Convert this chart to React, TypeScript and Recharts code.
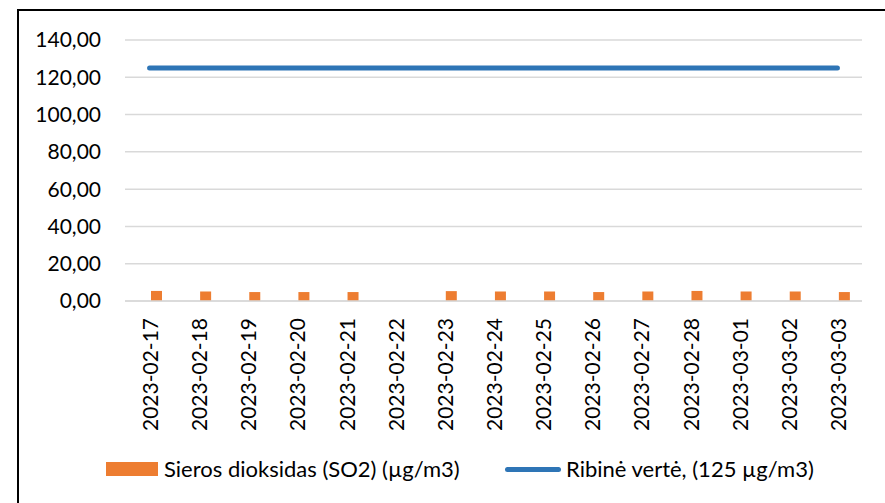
import React from "react";
import {
  ComposedChart,
  Bar,
  Line,
  XAxis,
  YAxis,
  CartesianGrid,
  Legend,
} from "recharts";

const dates = [
  "2023-02-17",
  "2023-02-18",
  "2023-02-19",
  "2023-02-20",
  "2023-02-21",
  "2023-02-22",
  "2023-02-23",
  "2023-02-24",
  "2023-02-25",
  "2023-02-26",
  "2023-02-27",
  "2023-02-28",
  "2023-03-01",
  "2023-03-02",
  "2023-03-03",
];
const so2Values: (number | null)[] = [
  5.4, 5.1, 4.8, 4.8, 4.8, null, 5.3, 5.1, 5.1, 4.8, 5.1, 5.4, 5.1, 5.1, 4.8,
];
const limitValues = [
  125, 125, 125, 125, 125, 125, 125, 125, 125, 125, 125, 125, 125, 125, 125,
];
const yTicks = [0, 20, 40, 60, 80, 100, 120, 140];

const SO2_NAME = "Sieros dioksidas (SO2) (µg/m3)";
const LIMIT_NAME = "Ribinė vertė, (125 µg/m3)";

const FONT = "Lato, 'Open Sans', sans-serif";
const ORANGE = "#ED7D31";
const BLUE = "#2E75B6";
const GRID = "#D9D9D9";

const data = dates.map((date, i) => ({
  date,
  spacer: null,
  so2: so2Values[i],
  limit: limitValues[i],
}));

const fmt = (v: number) => v.toFixed(2).replace(".", ",");

function DateTick(props: any) {
  const { x, y, payload } = props;
  const ty = y + 17;
  return (
    <text
      x={x}
      y={ty}
      transform={`rotate(-90, ${x}, ${ty})`}
      textAnchor="end"
      dominantBaseline="central"
      fontFamily={FONT}
      fontSize={21}
      fill="#000"
    >
      {payload.value}
    </text>
  );
}

function ChartLegend() {
  return (
    <div
      style={{
        position: "relative",
        height: 28,
        fontFamily: FONT,
        fontSize: 22,
        color: "#000",
        whiteSpace: "nowrap",
      }}
    >
      <span style={{ position: "absolute", left: 0, top: 7, width: 52, height: 14, background: ORANGE }} />
      <span style={{ position: "absolute", left: 58, top: 0, lineHeight: "28px" }}>{SO2_NAME}</span>
      <span
        style={{
          position: "absolute",
          left: 399,
          top: 12,
          width: 56,
          height: 5,
          borderRadius: 3,
          background: BLUE,
        }}
      />
      <span style={{ position: "absolute", left: 460, top: 0, lineHeight: "28px" }}>{LIMIT_NAME}</span>
    </div>
  );
}

export default function App() {
  return (
    <div
      style={{
        position: "fixed",
        left: 0,
        top: 0,
        width: 885,
        height: 503,
        overflow: "hidden",
        background: "#fff",
      }}
    >
      <div
        style={{
          position: "absolute",
          left: 17,
          top: 9,
          width: 900,
          height: 520,
          border: "2px solid #000",
          boxSizing: "border-box",
        }}
      />
      <div style={{ position: "absolute", left: 0, top: 0 }}>
        <ComposedChart
          width={885}
          height={503}
          data={data}
          margin={{ top: 40, right: 23, bottom: 72, left: 0 }}
          barGap={3}
        >
          <CartesianGrid vertical={false} stroke={GRID} strokeWidth={1.5} />
          <XAxis
            dataKey="date"
            interval={0}
            height={130}
            tickLine={false}
            tickSize={0}
            tickMargin={0}
            axisLine={{ stroke: GRID, strokeWidth: 1.5 }}
            tick={<DateTick />}
          />
          <YAxis
            width={125}
            domain={[0, 140]}
            ticks={yTicks}
            tickFormatter={fmt}
            axisLine={false}
            tickLine={false}
            tickSize={0}
            tickMargin={24}
            tick={{ fontFamily: FONT, fontSize: 21, fill: "#000" }}
          />
          <Legend
            layout="horizontal"
            verticalAlign="middle"
            align="center"
            wrapperStyle={{ top: 455, left: 106, width: 760, height: 28 }}
            content={<ChartLegend />}
          />
          <Bar
            dataKey="spacer"
            legendType="none"
            barSize={11}
            fill="transparent"
            isAnimationActive={false}
          />
          <Bar
            dataKey="so2"
            name={SO2_NAME}
            barSize={11}
            fill={ORANGE}
            isAnimationActive={false}
          />
          <Line
            type="linear"
            dataKey="limit"
            name={LIMIT_NAME}
            stroke={BLUE}
            strokeWidth={5}
            strokeLinecap="round"
            dot={false}
            activeDot={false}
            isAnimationActive={false}
          />
        </ComposedChart>
      </div>
    </div>
  );
}
